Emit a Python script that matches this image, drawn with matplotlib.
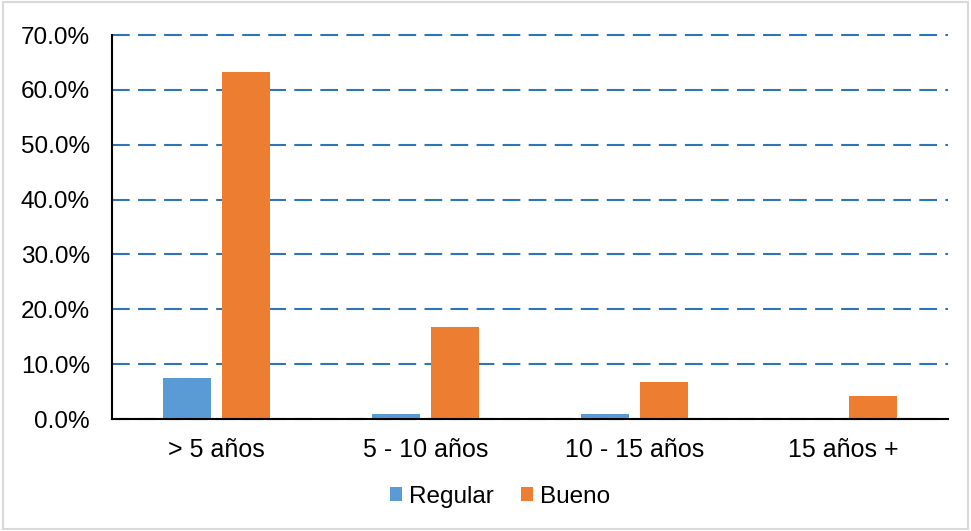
import matplotlib
matplotlib.use("Agg")
import matplotlib.pyplot as plt
import numpy as np
from matplotlib.ticker import PercentFormatter
from matplotlib.patches import Rectangle

plt.rcParams['font.family'] = ['Liberation Sans', 'DejaVu Sans']

categories = ['> 5 años', '5 - 10 años', '10 - 15 años', '15 años +']
regular = [7.5, 0.83, 0.83, 0.0]
bueno = [63.3, 16.7, 6.7, 4.2]

blue = '#5B9BD5'
orange = '#ED7D31'

fig = plt.figure(figsize=(9.71, 5.31), dpi=100)
ax = fig.add_axes([112 / 971, 1 - 419 / 531, (948 - 112) / 971, (419 - 35) / 531])

x = np.arange(len(categories))
w = 0.23
ax.bar(x - 0.143, regular, w, color=blue, label='Regular', zorder=3)
ax.bar(x + 0.143, bueno, w, color=orange, label='Bueno', zorder=3)

ax.set_xlim(-0.5, len(categories) - 0.5)
ax.set_ylim(0, 70)
ax.set_yticks(np.arange(0, 71, 10))
ax.yaxis.set_major_formatter(PercentFormatter(decimals=1))
ax.set_xticks(x)
ax.set_xticklabels(categories)
ax.tick_params(axis='both', length=0, labelsize=17.5, colors='#000000')
ax.tick_params(axis='y', pad=16)
ax.tick_params(axis='x', pad=14, labelsize=18)

ax.grid(axis='y', color='#2E75B6', linestyle=(0, (8.5, 4)), linewidth=1.5, zorder=0)
for gl in ax.get_ygridlines():
    gl.set_clip_on(False)
for s in ['top', 'right']:
    ax.spines[s].set_visible(False)
for s in ['left', 'bottom']:
    ax.spines[s].set_color('black')
    ax.spines[s].set_linewidth(1.5)
    ax.spines[s].set_zorder(4)

fig.legend(loc='center', bbox_to_anchor=(500 / 971, 1 - 497 / 531), ncol=2,
           frameon=False, fontsize=17.5, handlelength=0.5, handleheight=0.5,
           handletextpad=0.3, columnspacing=1.1)

fig.patches.append(Rectangle((0.003, 0.004), 0.994, 0.992, transform=fig.transFigure,
                             fill=False, edgecolor='#D9D9D9', linewidth=1.5))

fig.savefig('out.png', dpi=100)
